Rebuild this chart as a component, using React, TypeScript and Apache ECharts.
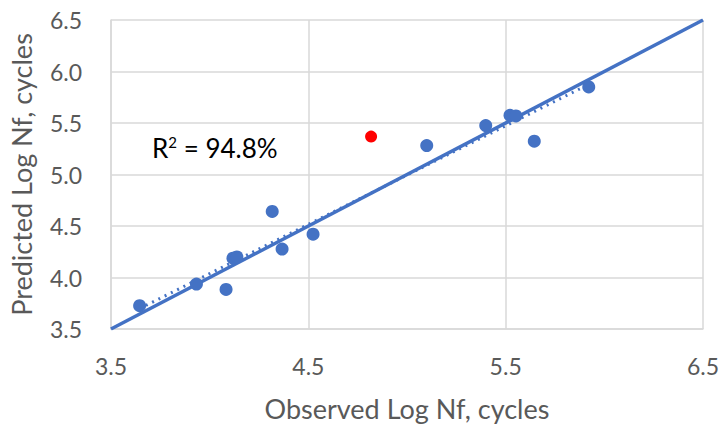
import React, { useEffect, useRef } from "react";
import * as echarts from "echarts";

const observedBlue = [3.645, 3.933, 4.083, 4.118, 4.138, 4.317, 4.367, 4.524, 5.100, 5.399, 5.522, 5.552, 5.645, 5.921];
const predictedBlue = [3.726, 3.936, 3.884, 4.188, 4.200, 4.641, 4.276, 4.421, 5.281, 5.475, 5.575, 5.569, 5.323, 5.850];
const observedRed = [4.818];
const predictedRed = [5.368];
const equalityLine = [3.5, 6.5];
const r2Label = "94.8%";

function fitLine(xs: number[], ys: number[]) {
  const n = xs.length;
  const mx = xs.reduce((a, b) => a + b, 0) / n;
  const my = ys.reduce((a, b) => a + b, 0) / n;
  let sxy = 0, sxx = 0;
  for (let i = 0; i < n; i++) {
    sxy += (xs[i] - mx) * (ys[i] - my);
    sxx += (xs[i] - mx) * (xs[i] - mx);
  }
  const b = sxy / sxx;
  const a = my - b * mx;
  return { a, b };
}

export default function App() {
  const ref = useRef<HTMLDivElement>(null);
  useEffect(() => {
    if (!ref.current) return;
    const chart = echarts.init(ref.current, undefined, { renderer: "svg" });
    const { a, b } = fitLine(observedBlue, predictedBlue);
    const xMin = Math.min(...observedBlue);
    const xMax = Math.max(...observedBlue);
    const font = "Lato, 'Open Sans', sans-serif";
    chart.setOption({
      animation: false,
      backgroundColor: "#ffffff",
      grid: { left: 111, right: 18, top: 20, bottom: 98, containLabel: false, outerBoundsMode: "none" },
      xAxis: {
        type: "value",
        min: 3.5,
        max: 6.5,
        interval: 1,
        name: "Observed Log Nf, cycles",
        nameLocation: "middle",
        nameGap: 66,
        nameTextStyle: { color: "#595959", fontSize: 27, fontFamily: font },
        axisLine: { show: true, lineStyle: { color: "#d9d9d9", width: 1.5 } },
        axisTick: { show: false },
        splitLine: { show: true, lineStyle: { color: "#d9d9d9", width: 1.5 } },
        axisLabel: { color: "#595959", fontSize: 23, fontFamily: font, margin: 25, formatter: (v: number) => v.toFixed(1) },
      },
      yAxis: {
        type: "value",
        min: 3.5,
        max: 6.5,
        interval: 0.5,
        name: "Predicted Log Nf, cycles",
        nameLocation: "middle",
        nameGap: 76,
        nameTextStyle: { color: "#595959", fontSize: 27, fontFamily: font },
        axisLine: { show: true, lineStyle: { color: "#d9d9d9", width: 1.5 } },
        axisTick: { show: false },
        splitLine: { show: true, lineStyle: { color: "#d9d9d9", width: 1.5 } },
        axisLabel: { color: "#595959", fontSize: 23, fontFamily: font, margin: 29, formatter: (v: number) => v.toFixed(1) },
      },
      series: [
        {
          type: "line",
          data: equalityLine.map((v) => [v, v]),
          symbol: "none",
          lineStyle: { color: "#4472C4", width: 3.5 },
          z: 3,
        },
        {
          type: "line",
          data: [[xMin, a + b * xMin], [xMax, a + b * xMax]],
          symbol: "none",
          lineStyle: { color: "#4472C4", width: 3, type: [2, 5] },
          z: 2,
        },
        {
          type: "scatter",
          data: observedBlue.map((x, i) => [x, predictedBlue[i]]),
          symbolSize: 13,
          itemStyle: { color: "#4472C4", opacity: 1 },
          z: 4,
        },
        {
          type: "scatter",
          data: observedRed.map((x, i) => [x, predictedRed[i]]),
          symbolSize: 12,
          itemStyle: { color: "#FF0000", opacity: 1 },
          z: 4,
        },
      ],
      graphic: [
        {
          type: "text",
          left: 152,
          top: 134,
          style: {
            text: "{r|R}{s|2}{r| = " + r2Label + "}",
            rich: {
              r: { fontSize: 26, fontFamily: font, fill: "#000000", verticalAlign: "bottom" },
              s: { fontSize: 15, fontFamily: font, fill: "#000000", verticalAlign: "top", padding: [0, 0, 12, 0] },
            },
          },
        },
      ],
    });
    return () => chart.dispose();
  }, []);
  return (
    <div
      ref={ref}
      style={{ position: "absolute", left: 0, top: 0, width: 721, height: 427 }}
    />
  );
}
